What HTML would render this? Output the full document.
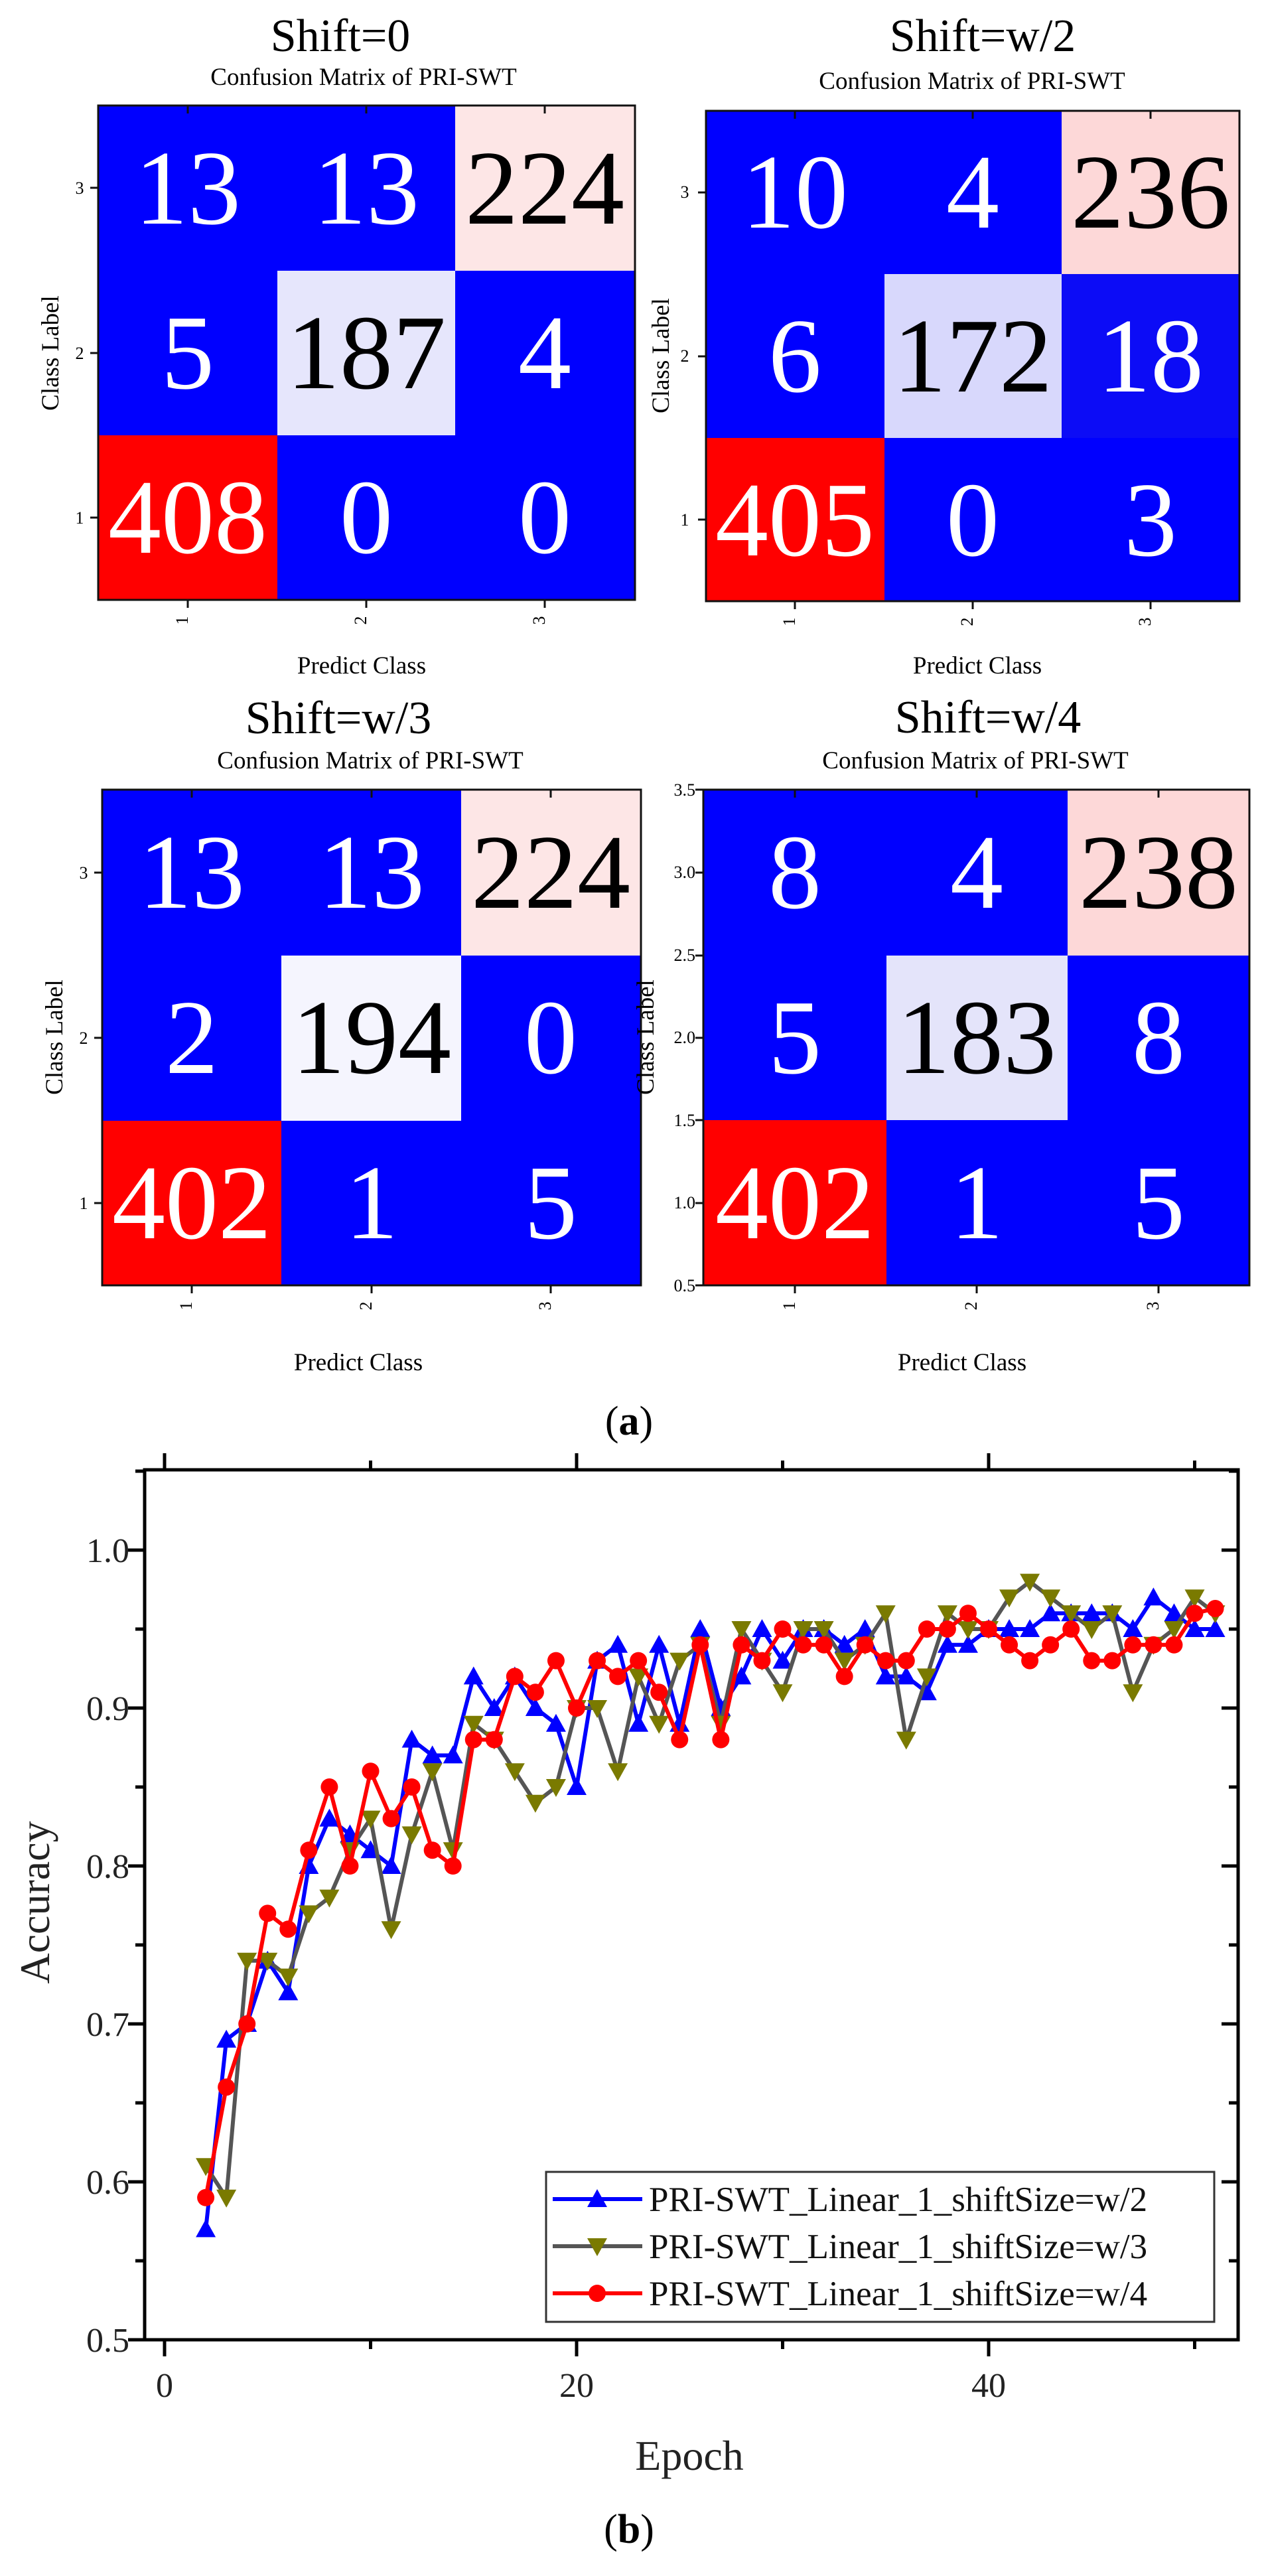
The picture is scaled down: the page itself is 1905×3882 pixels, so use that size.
<!DOCTYPE html>
<html><head><meta charset="utf-8"><style>
html,body{margin:0;padding:0;background:#fff}
svg{display:block;font-family:"Liberation Serif","Times New Roman",serif}
svg text{font-family:"Liberation Serif","Times New Roman",serif}
</style></head><body>
<svg id="s" width="1905" height="3882" viewBox="0 0 1905 3882" xmlns="http://www.w3.org/2000/svg" font-family="Liberation Serif, serif">
<rect width="1905" height="3882" fill="#fff"/>

<!-- Panel 1 -->
<g>
<rect x="148" y="159" width="809" height="745" fill="#0000ff"/>
<rect x="148" y="656" width="270" height="248" fill="#ff0000"/>
<rect x="418" y="408" width="268" height="248" fill="#e6e6fc"/>
<rect x="686" y="159" width="271" height="249" fill="#fde6e6"/>
<rect x="148" y="159" width="809" height="745" fill="none" stroke="#111" stroke-width="3"/>
<text x="513" y="77" font-size="70" text-anchor="middle">Shift=0</text>
<text x="548" y="128" font-size="37" text-anchor="middle">Confusion Matrix of PRI-SWT</text>
<g font-size="160" text-anchor="middle" fill="#fff">
<text x="283" y="337">13</text><text x="552" y="337">13</text><text x="821" y="337" fill="#000">224</text>
<text x="283" y="585">5</text><text x="552" y="585" fill="#000">187</text><text x="821" y="585">4</text>
<text x="283" y="833">408</text><text x="552" y="833">0</text><text x="821" y="833">0</text>
</g>
<text x="545" y="1015" font-size="37" text-anchor="middle">Predict Class</text>
<text transform="translate(88,532) rotate(-90)" font-size="37" text-anchor="middle">Class Label</text>
</g>

<!-- Panel 2 -->
<g>
<rect x="1064" y="167" width="804" height="739" fill="#0000ff"/>
<rect x="1600" y="413" width="268" height="247" fill="#0c0cf6"/>
<rect x="1064" y="660" width="269" height="246" fill="#ff0000"/>
<rect x="1333" y="413" width="267" height="247" fill="#d8d8fc"/>
<rect x="1600" y="167" width="268" height="246" fill="#fdd8d8"/>
<rect x="1064" y="167" width="804" height="739" fill="none" stroke="#111" stroke-width="3"/>
<text x="1481" y="77" font-size="70" text-anchor="middle">Shift=w/2</text>
<text x="1465" y="134" font-size="37" text-anchor="middle">Confusion Matrix of PRI-SWT</text>
<g font-size="160" text-anchor="middle" fill="#fff">
<text x="1198" y="343">10</text><text x="1466" y="343">4</text><text x="1734" y="343" fill="#000">236</text>
<text x="1198" y="590">6</text><text x="1466" y="590" fill="#000">172</text><text x="1734" y="590">18</text>
<text x="1198" y="837">405</text><text x="1466" y="837">0</text><text x="1734" y="837">3</text>
</g>
<text x="1473" y="1015" font-size="37" text-anchor="middle">Predict Class</text>
<text transform="translate(1008,536) rotate(-90)" font-size="37" text-anchor="middle">Class Label</text>
</g>

<!-- Panel 3 -->
<g>
<rect x="154" y="1190" width="812" height="747" fill="#0000ff"/>
<rect x="154" y="1689" width="270" height="248" fill="#ff0000"/>
<rect x="424" y="1440" width="271" height="249" fill="#f5f5fe"/>
<rect x="695" y="1190" width="271" height="250" fill="#fde6e6"/>
<rect x="154" y="1190" width="812" height="747" fill="none" stroke="#111" stroke-width="3"/>
<text x="510" y="1105" font-size="70" text-anchor="middle">Shift=w/3</text>
<text x="558" y="1158" font-size="37" text-anchor="middle">Confusion Matrix of PRI-SWT</text>
<g font-size="160" text-anchor="middle" fill="#fff">
<text x="289" y="1368">13</text><text x="560" y="1368">13</text><text x="830" y="1368" fill="#000">224</text>
<text x="289" y="1617">2</text><text x="560" y="1617" fill="#000">194</text><text x="830" y="1617">0</text>
<text x="289" y="1866">402</text><text x="560" y="1866">1</text><text x="830" y="1866">5</text>
</g>
<text transform="translate(94,1563) rotate(-90)" font-size="37" text-anchor="middle">Class Label</text>
<text x="540" y="2065" font-size="37" text-anchor="middle">Predict Class</text>
</g>

<!-- Panel 4 -->
<g>
<rect x="1060" y="1190" width="823" height="747" fill="#0000ff"/>
<rect x="1060" y="1688" width="276" height="249" fill="#ff0000"/>
<rect x="1336" y="1440" width="273" height="248" fill="#e4e4fa"/>
<rect x="1609" y="1190" width="274" height="250" fill="#fdd8d8"/>
<rect x="1060" y="1190" width="823" height="747" fill="none" stroke="#111" stroke-width="3"/>
<text x="1489" y="1104" font-size="70" text-anchor="middle">Shift=w/4</text>
<text x="1470" y="1158" font-size="37" text-anchor="middle">Confusion Matrix of PRI-SWT</text>
<g font-size="160" text-anchor="middle" fill="#fff">
<text x="1198" y="1368">8</text><text x="1472" y="1368">4</text><text x="1746" y="1368" fill="#000">238</text>
<text x="1198" y="1617">5</text><text x="1472" y="1617" fill="#000">183</text><text x="1746" y="1617">8</text>
<text x="1198" y="1866">402</text><text x="1472" y="1866">1</text><text x="1746" y="1866">5</text>
</g>
<g font-size="26" text-anchor="end">
<text x="1048" y="1199">3.5</text><text x="1048" y="1323">3.0</text><text x="1048" y="1448">2.5</text><text x="1048" y="1572">2.0</text><text x="1048" y="1697">1.5</text><text x="1048" y="1821">1.0</text><text x="1048" y="1946">0.5</text>
</g>
<text transform="translate(985,1563) rotate(-90)" font-size="37" text-anchor="middle">Class Label</text>
<text x="1450" y="2065" font-size="37" text-anchor="middle">Predict Class</text>
</g>

<g font-size="26" text-anchor="middle">
<text x="120" y="292">3</text><text x="120" y="541">2</text><text x="120" y="789">1</text>
<text x="1032" y="298">3</text><text x="1032" y="545">2</text><text x="1032" y="792">1</text>
<text x="126" y="1324">3</text><text x="126" y="1573">2</text><text x="126" y="1822">1</text>
<text transform="translate(283,935) rotate(-90)">1</text><text transform="translate(552,935) rotate(-90)">2</text><text transform="translate(821,935) rotate(-90)">3</text>
<text transform="translate(1198,937) rotate(-90)">1</text><text transform="translate(1466,937) rotate(-90)">2</text><text transform="translate(1734,937) rotate(-90)">3</text>
<text transform="translate(289,1968) rotate(-90)">1</text><text transform="translate(560,1968) rotate(-90)">2</text><text transform="translate(830,1968) rotate(-90)">3</text>
<text transform="translate(1198,1968) rotate(-90)">1</text><text transform="translate(1472,1968) rotate(-90)">2</text><text transform="translate(1746,1968) rotate(-90)">3</text>
</g>
<g id="mt" stroke="#111" stroke-width="3"></g>

<text x="948" y="2162" font-size="62" text-anchor="middle">(<tspan font-weight="bold">a</tspan>)</text>

<g id="ch"></g>
<rect x="218" y="2215" width="1648" height="1311" fill="none" stroke="#000" stroke-width="5"/>
<g font-size="52" text-anchor="end" fill="#222">
<text x="195" y="3544">0.5</text><text x="195" y="3306">0.6</text><text x="195" y="3068">0.7</text><text x="195" y="2830">0.8</text><text x="195" y="2592">0.9</text><text x="195" y="2354">1.0</text>
</g>
<g font-size="52" text-anchor="middle" fill="#222">
<text x="248" y="3612">0</text><text x="869" y="3612">20</text><text x="1490" y="3612">40</text>
</g>
<text x="1039" y="3722" font-size="64" text-anchor="middle" fill="#222">Epoch</text>
<text transform="translate(74,2867) rotate(-90)" font-size="64" text-anchor="middle" fill="#222">Accuracy</text>
<rect x="823" y="3273" width="1007" height="226" fill="#fff" stroke="#333" stroke-width="3"/>
<g id="lg"></g>
<g font-size="53" fill="#111">
<text x="978" y="3332">PRI-SWT_Linear_1_shiftSize=w/2</text>
<text x="978" y="3403">PRI-SWT_Linear_1_shiftSize=w/3</text>
<text x="978" y="3474">PRI-SWT_Linear_1_shiftSize=w/4</text>
</g>
<text x="948" y="3832" font-size="62" text-anchor="middle">(<tspan font-weight="bold">b</tspan>)</text>
</svg>
<script>
var NS="http://www.w3.org/2000/svg";
function el(p,t,a){var e=document.createElementNS(NS,t);for(var k in a)e.setAttribute(k,a[k]);p.appendChild(e);return e;}
var mt=document.getElementById('mt');
[[148,159,957,904,[283,552,821],[283,532,780]],[1064,167,1868,906,[1198,1466,1734],[290,537,783]],[154,1190,966,1937,[289,560,830],[1315,1564,1813]],[1060,1190,1883,1937,[1198,1472,1746],[1315,1564,1813]]].forEach(function(p){
 p[4].forEach(function(x){el(mt,'line',{x1:x,y1:p[3],x2:x,y2:p[3]+12});el(mt,'line',{x1:x,y1:p[1],x2:x,y2:p[1]+12});});
 p[5].forEach(function(y){el(mt,'line',{x1:p[0]-12,y1:y,x2:p[0],y2:y});});
});
[1190,1252,1315,1377,1440,1502,1564,1626,1688,1750,1813,1875,1937].forEach(function(y,i){el(mt,'line',{x1:1060-(i%2?0:12),y1:y,x2:1060,y2:y});});
var ch=document.getElementById('ch');
function X(e){return 248+31.05*e;} function Y(v){return 3526-(v-0.5)*2380;}
for(var v=0.5;v<=1.051;v+=0.05){var y=Y(v),maj=Math.round(v*100)%10==0;
 el(ch,'line',{x1:218-(maj?25:14),y1:y,x2:218,y2:y,stroke:'#000','stroke-width':5});
 el(ch,'line',{x1:1866,y1:y,x2:1866-(maj?25:14),y2:y,stroke:'#000','stroke-width':5});}
for(var e=0;e<=50;e+=10){var x=X(e),maj=e%20==0;
 el(ch,'line',{x1:x,y1:3526,x2:x,y2:3526+(maj?25:14),stroke:'#000','stroke-width':5});
 el(ch,'line',{x1:x,y1:2215,x2:x,y2:2215-(maj?25:14),stroke:'#000','stroke-width':5});}
var B=[.57,.69,.70,.74,.72,.80,.83,.82,.81,.80,.88,.87,.87,.92,.90,.92,.90,.89,.85,.93,.94,.89,.94,.89,.95,.90,.92,.95,.93,.95,.95,.94,.95,.92,.92,.91,.94,.94,.95,.95,.95,.96,.96,.96,.96,.95,.97,.96,.95,.95];
var G=[.61,.59,.74,.74,.73,.77,.78,.81,.83,.76,.82,.86,.81,.89,.88,.86,.84,.85,.90,.90,.86,.92,.89,.93,.94,.89,.95,.93,.91,.95,.95,.93,.94,.96,.88,.92,.96,.95,.95,.97,.98,.97,.96,.95,.96,.91,.94,.95,.97,.96];
var R=[.59,.66,.70,.77,.76,.81,.85,.80,.86,.83,.85,.81,.80,.88,.88,.92,.91,.93,.90,.93,.92,.93,.91,.88,.94,.88,.94,.93,.95,.94,.94,.92,.94,.93,.93,.95,.95,.96,.95,.94,.93,.94,.95,.93,.93,.94,.94,.94,.96,.963];
function up(g,x,y,c){el(g,'polygon',{points:(x-15)+','+(y+12)+' '+(x+15)+','+(y+12)+' '+x+','+(y-15),fill:c});}
function dn(g,x,y,c){el(g,'polygon',{points:(x-15)+','+(y-12)+' '+(x+15)+','+(y-12)+' '+x+','+(y+15),fill:c});}
function ci(g,x,y,c){el(g,'circle',{cx:x,cy:y,r:13,fill:c});}
function series(d,lc,mc,m){var pts=d.map(function(v,i){return X(i+2)+','+Y(v);}).join(' ');
 el(ch,'polyline',{points:pts,fill:'none',stroke:lc,'stroke-width':6,'stroke-linejoin':'round'});
 d.forEach(function(v,i){m(ch,X(i+2),Y(v),mc);});}
series(B,'#0000ff','#0000ff',up);
series(G,'#555555','#7a7a00',dn);
series(R,'#ff0000','#ff0000',ci);
var lg=document.getElementById('lg');
[[3314,'#0000ff','#0000ff',up],[3385,'#555555','#7a7a00',dn],[3456,'#ff0000','#ff0000',ci]].forEach(function(r){
 el(lg,'line',{x1:833,y1:r[0],x2:968,y2:r[0],stroke:r[1],'stroke-width':6});r[3](lg,900,r[0],r[2]);});
</script>
</body></html>
